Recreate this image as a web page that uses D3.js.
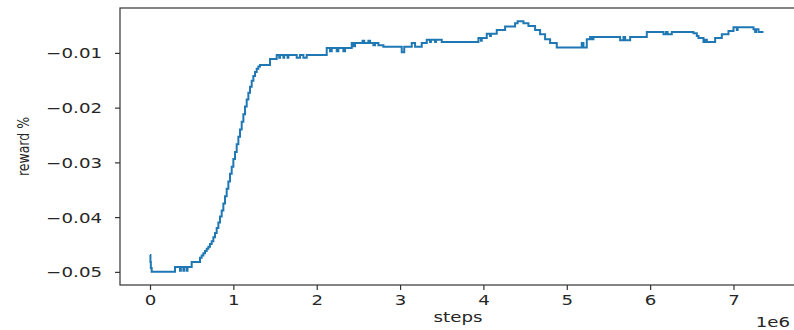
<!DOCTYPE html>
<html>
<head>
<meta charset="utf-8">
<script src="https://cdn.jsdelivr.net/npm/d3@7"></script>
<style>
  html, body { margin: 0; padding: 0; background: #fff; }
  svg { display: block; }
  text { font-family: "DejaVu Sans", sans-serif; fill: #262626; }
</style>
</head>
<body>
<svg id="chart" width="794" height="330"></svg>
<script>
// steps (in units of 1e6)
const steps = [
  0.00, 0.005, 0.01, 0.02, 0.30, 0.36, 0.37, 0.40, 0.41, 0.44, 0.45, 0.50,
  0.60, 0.62, 0.64, 0.66, 0.68, 0.70, 0.72, 0.74, 0.76, 0.78, 0.80, 0.82,
  0.84, 0.86, 0.88, 0.90, 0.92, 0.94, 0.96, 0.98, 1.00, 1.02, 1.04, 1.06,
  1.08, 1.10, 1.12, 1.14, 1.16, 1.18, 1.20, 1.22, 1.24, 1.26, 1.28, 1.30,
  1.32, 1.44,
  1.52, 1.55, 1.56, 1.60, 1.61, 1.65, 1.66, 1.76, 1.80, 1.84, 1.88,
  2.12, 2.16, 2.18, 2.24, 2.26, 2.32, 2.34, 2.42, 2.44, 2.46,
  2.55, 2.57, 2.62, 2.64, 2.68, 2.70, 2.74, 2.80, 3.02, 3.05,
  3.14, 3.18, 3.26, 3.32, 3.36, 3.37, 3.42, 3.43, 3.50,
  3.94, 3.97, 3.98, 4.04, 4.08, 4.09, 4.16, 4.26, 4.38, 4.41, 4.48,
  4.54, 4.62, 4.68, 4.74, 4.80, 4.88,
  5.18, 5.20, 5.24, 5.28, 5.30, 5.32,
  5.64, 5.68, 5.70, 5.76, 5.96,
  6.16, 6.19, 6.21, 6.26, 6.52, 6.56, 6.58, 6.64, 6.66, 6.68, 6.78,
  6.86, 6.94, 7.00, 7.04, 7.05, 7.24, 7.26, 7.27, 7.30, 7.36
];
// reward % at each step
const reward = [
  -0.0469, -0.0482, -0.0493, -0.0500, -0.0491, -0.0498, -0.0491, -0.0498, -0.0491, -0.0498, -0.0491, -0.0482,
  -0.0474, -0.0470, -0.0466, -0.0462, -0.0458, -0.0454, -0.0449, -0.0444, -0.0437, -0.0429, -0.0420, -0.0410,
  -0.0399, -0.0388, -0.0375, -0.0362, -0.0348, -0.0335, -0.0321, -0.0308, -0.0294, -0.0281, -0.0267, -0.0253,
  -0.0240, -0.0226, -0.0212, -0.0198, -0.0185, -0.0173, -0.0162, -0.0151, -0.0142, -0.0135, -0.0129, -0.0125,
  -0.0122, -0.0111,
  -0.0104, -0.0109, -0.0104, -0.0109, -0.0104, -0.0109, -0.0104, -0.0109, -0.0104, -0.0109, -0.0104,
  -0.0091, -0.0097, -0.0091, -0.0097, -0.0091, -0.0097, -0.0091, -0.0082, -0.0088, -0.0082,
  -0.0078, -0.0082, -0.0078, -0.0082, -0.0086, -0.0082, -0.0086, -0.0089, -0.0099, -0.0089,
  -0.0082, -0.0089, -0.0082, -0.0076, -0.0080, -0.0076, -0.0080, -0.0076, -0.0080,
  -0.0073, -0.0078, -0.0073, -0.0065, -0.0069, -0.0065, -0.0058, -0.0052, -0.0046, -0.0042, -0.0046,
  -0.0051, -0.0058, -0.0066, -0.0075, -0.0082, -0.0090,
  -0.0082, -0.0090, -0.0075, -0.0071, -0.0075, -0.0071,
  -0.0077, -0.0071, -0.0077, -0.0071, -0.0062,
  -0.0066, -0.0062, -0.0066, -0.0062, -0.0064, -0.0069, -0.0073, -0.0080, -0.0076, -0.0080, -0.0073,
  -0.0066, -0.0060, -0.0053, -0.0058, -0.0053, -0.0057, -0.0062, -0.0057, -0.0062, -0.0062
];
const xTicks = [0, 1, 2, 3, 4, 5, 6, 7];
const yTicks = [-0.05, -0.04, -0.03, -0.02, -0.01];
const xLabel = "steps";
const yLabel = "reward %";
const xOffsetLabel = "1e6";

const svg = d3.select("#chart");
const mLeft = 120, mTop = 8, mRight = 796, mBottom = 285;
const SX = 1.3; // horizontal text stretch seen in the reference

const x = d3.scaleLinear().domain([-0.36, 7.75]).range([mLeft, mRight]);
const y = d3.scaleLinear().domain([-0.0524, -0.0018]).range([mBottom, mTop]);

const data = steps.map((s, i) => ({ s, r: reward[i] }));

// line
svg.append("path")
  .datum(data)
  .attr("fill", "none")
  .attr("stroke", "#1f77b4")
  .attr("stroke-width", 2)
  .attr("d", d3.line().x(d => x(d.s)).y(d => y(d.r)).curve(d3.curveStepAfter));

// axes
const xAxis = svg.append("g")
  .attr("transform", `translate(0,${mBottom})`)
  .call(d3.axisBottom(x).tickValues(xTicks).tickFormat(d3.format("d")).tickSize(5).tickSizeOuter(0));
const yAxis = svg.append("g")
  .attr("transform", `translate(${mLeft},0)`)
  .call(d3.axisLeft(y).tickValues(yTicks).tickFormat(d3.format(".2f")).tickSize(5).tickSizeOuter(0));

[xAxis, yAxis].forEach(g => {
  g.select(".domain").remove();
  g.selectAll(".tick line").attr("stroke", "#333").attr("stroke-width", 1.2);
  g.selectAll(".tick text")
    .style("font-family", "DejaVu Sans, sans-serif")
    .attr("font-size", 14).attr("fill", "#262626");
});
xAxis.selectAll(".tick text")
  .attr("y", 20).attr("dy", null)
  .attr("transform", `scale(${SX},1)`);
yAxis.selectAll(".tick text")
  .attr("x", -18 / SX).attr("dy", "0.35em")
  .attr("transform", `scale(${SX},1)`);

// frame (spines)
svg.append("rect")
  .attr("x", mLeft).attr("y", mTop)
  .attr("width", mRight - mLeft).attr("height", mBottom - mTop)
  .attr("fill", "none").attr("stroke", "#333").attr("stroke-width", 1.2);

// labels
svg.append("text")
  .attr("transform", `translate(${(mLeft + mRight) / 2},322) scale(${SX},1)`)
  .attr("text-anchor", "middle").attr("font-size", 14)
  .text(xLabel);
svg.append("text")
  .attr("transform", `translate(790,327) scale(${SX},1)`)
  .attr("text-anchor", "end").attr("font-size", 14)
  .text(xOffsetLabel);
svg.append("text")
  .attr("transform", `translate(29,${(mTop + mBottom) / 2}) rotate(-90) scale(1,${SX})`)
  .attr("text-anchor", "middle").attr("font-size", 12.5)
  .text(yLabel);
</script>
</body>
</html>
